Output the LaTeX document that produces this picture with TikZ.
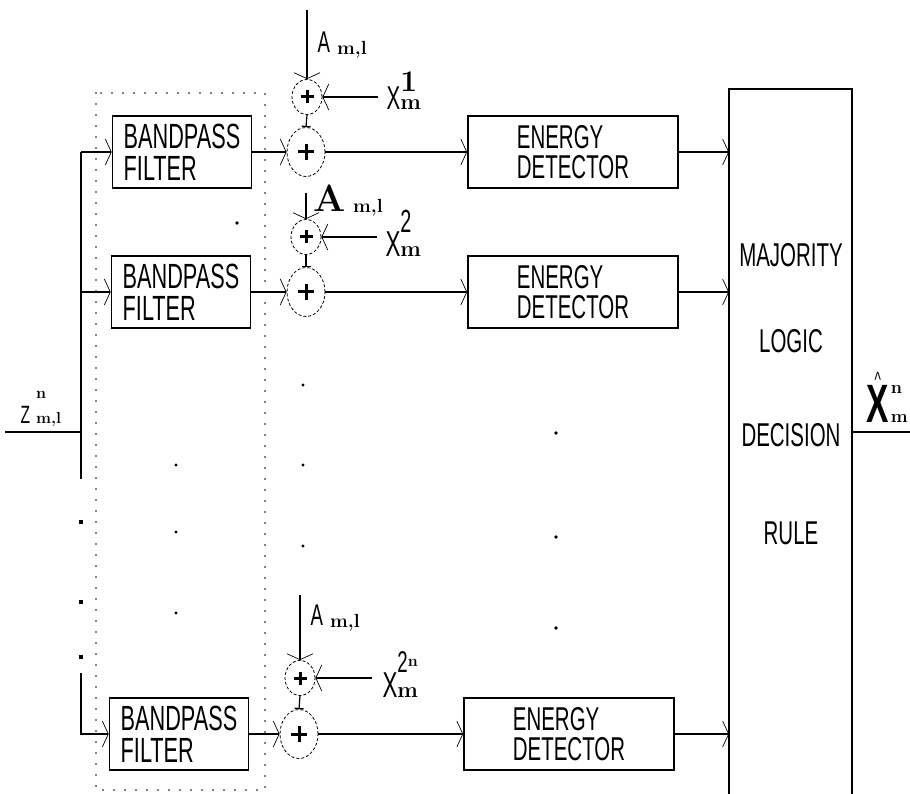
\documentclass[tikz,border=0pt]{standalone}
\usepackage{fontspec}
\newfontfamily\boxfont[FakeStretch=0.62]{Liberation Sans}
\usetikzlibrary{arrows.meta}
\usetikzlibrary{shapes.geometric}
\usetikzlibrary{positioning}

% base, superscript, subscript, raise of the superscript
\newcommand{\symlbl}[4]{{#1}\makebox[0pt][l]{\raisebox{#4}{#2}}{#3}}

\begin{document}
\begin{tikzpicture}[x=1pt, y=-1pt, line width=1.2pt,
  >={Straight Barb[length=6pt,width=26pt,line width=0.7pt]},
  filterbox/.style={draw, line width=1.6pt, minimum width=139pt, minimum height=72pt,
    inner sep=0pt, align=left, font=\fontsize{35}{32}\boxfont},
  detbox/.style={draw, line width=1.6pt, minimum width=210pt, minimum height=72pt,
    inner sep=0pt, align=left, font=\fontsize{33}{30}\boxfont},
  adder/.style={ellipse, draw, densely dashed, line width=0.8pt, minimum width=38pt,
    minimum height=49pt, inner sep=0pt,
    path picture={\draw[solid, line width=3pt]
      ([xshift=-8pt]path picture bounding box.center) -- ([xshift=8pt]path picture bounding box.center)
      ([yshift=-8pt]path picture bounding box.center) -- ([yshift=8pt]path picture bounding box.center);}},
  smalladder/.style={ellipse, draw, densely dashed, line width=0.8pt, minimum width=30pt,
    minimum height=35pt, inner sep=0pt,
    path picture={\draw[solid, line width=3pt]
      ([xshift=-6.5pt]path picture bounding box.center) -- ([xshift=6.5pt]path picture bounding box.center)
      ([yshift=-6.5pt]path picture bounding box.center) -- ([yshift=6.5pt]path picture bounding box.center);}},
  majtext/.style={inner sep=0pt, font=\fontsize{33}{33}\boxfont},
  lbl/.style={inner sep=0pt, anchor=base west},
  dotbox/.style={line width=1.6pt, dash pattern=on 0pt off 11pt, line cap=round}]
  \useasboundingbox (0,0) rectangle (910,794);

  % bank of filters
  \draw[dotbox] (96,93) rectangle (265,790);
  \node[filterbox] (f1) at (182,152) {BANDPASS\\FILTER};
  \node[filterbox] (f2) at (181,292) {BANDPASS\\FILTER};
  \node[filterbox] (f3) at (179,734) {BANDPASS\\FILTER};

  % adders
  \node[adder] (a1) at (306,152) {};
  \node[smalladder] (s1) at (307,97) {};
  \node[adder] (a2) at (306,292) {};
  \node[smalladder] (s2) at (306,237) {};
  \node[adder] (a3) at (299,734) {};
  \node[smalladder] (s3) at (300,678) {};

  % detectors
  \node[detbox] (ed1) at (573,152) {ENERGY\\DETECTOR};
  \node[detbox] (ed2) at (573,292) {ENERGY\\DETECTOR};
  \node[detbox] (ed3) at (569,734) {ENERGY\\DETECTOR};

  % decision box, open at the bottom
  \coordinate (majL) at (729,89);
  \coordinate (majR) at (852,89);
  \draw[line width=1.6pt] (729,794) -- (majL) -- (majR) -- (852,794);
  \node[majtext] (maj) at (791,255) {MAJORITY};
  \node[majtext] (logic) at (791,341) {LOGIC};
  \node[majtext] (dec) at (791,435) {DECISION};
  \node[majtext] (rule) at (791,533) {RULE};

  % input bus
  \coordinate (zin) at (5,432);
  \coordinate (bus) at (81,432);
  \coordinate (busend) at (81,479);
  \coordinate (busgap) at (81,673);
  \draw (zin) -- (bus);
  \draw (f1.west -| bus) -- (busend);
  \draw[->] (f1.west -| bus) -- (f1.west);
  \draw[->] (f2.west -| bus) -- (f2.west);
  \draw[->] (busgap) |- (f3.west);
  \foreach \y in {522,602,657}
    \fill (79,\y-2) rectangle (83,\y+2);

  % filters to adders to detectors
  \foreach \i in {1,2,3} {
    \draw[->] (f\i.east) -- (a\i.west);
    \draw[->] (a\i.east) -- (ed\i.west);
    \draw[->] (ed\i.east) -- (ed\i.east -| majL);
    \draw[-{Bar[width=9pt]}] (s\i.south) -- (a\i.north);
  }

  % side inputs of the small adders
  \coordinate (atop1) at (307,10);
  \coordinate (atop2) at (306,193);
  \coordinate (atop3) at (300,595);
  \coordinate (xin1) at (378,97);
  \coordinate (xin2) at (377,237);
  \coordinate (xin3) at (372,678);
  \foreach \i in {1,2,3} {
    \draw[->] (atop\i) -- (s\i.north);
    \draw[->] (xin\i) -- (s\i.east);
  }

  % output
  \coordinate (xout) at (910,432);
  \draw (xout -| majR) -- (xout);

  % labels
  \node[lbl] (lz) at (20,423) {\symlbl{\fontsize{25}{25}\boxfont Z}{\fontsize{16}{16}\selectfont\bfseries\ n}{\fontsize{16}{16}\selectfont\bfseries\ m,l}{25pt}};
  \node[lbl] (la1) at (317,53) {{\fontsize{30}{30}\boxfont A}\raisebox{-2pt}{\fontsize{19}{19}\selectfont\bfseries\ m,l}};
  \node[lbl] (la2) at (313,212) {{\fontsize{38}{38}\selectfont\bfseries A}\raisebox{-1pt}{\fontsize{19}{19}\selectfont\bfseries\ m,l}};
  \node[lbl] (la3) at (310,625) {{\fontsize{30}{30}\boxfont A}\raisebox{-2pt}{\fontsize{19}{19}\selectfont\bfseries\ m,l}};
  \node[lbl] (lx1) at (386,110) {\symlbl{\fontsize{33}{33}\boxfont X}{\fontsize{30}{30}\selectfont\bfseries 1}{\fontsize{22}{22}\selectfont\bfseries m}{18pt}};
  \node[lbl] (lx2) at (385,257) {\symlbl{\fontsize{36}{36}\boxfont X}{\fontsize{32}{32}\boxfont 2}{\fontsize{22}{22}\selectfont\bfseries m}{24pt}};
  \node[lbl] (lx3) at (382,697) {\symlbl{\fontsize{36}{36}\boxfont X}{{\fontsize{30}{30}\boxfont 2}\raisebox{6pt}{\fontsize{16}{16}\selectfont\bfseries n}}{\fontsize{22}{22}\selectfont\bfseries m}{25pt}};
  \node[lbl] (lout) at (866,422) {\symlbl{\rlap{\hspace{8pt}\raisebox{35pt}{\fontsize{22}{22}\boxfont\^{}}}{\fontsize{54}{54}\boxfont\bfseries X}}{\hspace{2pt}\fontsize{18}{18}\selectfont\bfseries n}{\hspace{2pt}\fontsize{18}{18}\selectfont\bfseries m}{29pt}};

  % continuation dots
  \foreach \y in {465,532,613}
    \fill (176,\y) circle (1.6pt);
  \foreach \y in {385,465,546}
    \fill (303,\y) circle (1.6pt);
  \foreach \y in {433,537,628}
    \fill (556,\y) circle (1.8pt);
  \fill (237,223) circle (1.8pt);
\end{tikzpicture}
\end{document}
